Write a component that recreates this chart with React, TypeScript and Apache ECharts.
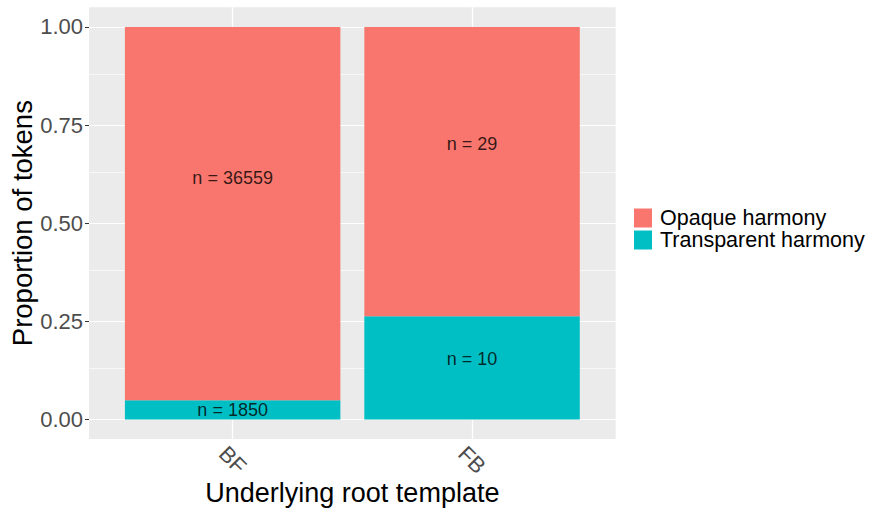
import React, { useEffect, useRef } from "react";
import * as echarts from "echarts";

const categories = ["BF", "FB"];
const categoryPos = [1, 2];
const opaqueProp = [0.951, 0.737];
const transparentProp = [0.049, 0.263];
const opaqueN = [36559, 29];
const transparentN = [1850, 10];
const opaqueLabelY = [0.616, 0.701];
const transparentLabelY = [0.025, 0.155];
const yTicks = [0, 0.25, 0.5, 0.75, 1];
const yMinor = [0.125, 0.375, 0.625, 0.875];

const FONT = "'Liberation Sans', Arial, sans-serif";
const RED = "#F8766D";
const TEAL = "#00BFC4";

export default function App() {
  const ref = useRef<HTMLDivElement>(null);
  useEffect(() => {
    if (!ref.current) return;
    const chart = echarts.init(ref.current, undefined, { renderer: "svg" });
    const panelLeft = 89;
    const panelRight = 615.7;
    const panelTop = 7.3;
    const panelBottom = 439;
    const unit = (panelRight - panelLeft) / 2.2;
    const barLeft = panelLeft + 0.1 * unit;
    const barRight = barLeft + 2 * unit;

    const gridLines: any[] = [
      ...yMinor.map((v) => ({ yAxis: v, lineStyle: { color: "#FFFFFF", width: 0.6, type: "solid" } })),
      ...yTicks.map((v) => ({ yAxis: v, lineStyle: { color: "#FFFFFF", width: 1.2, type: "solid" } })),
      ...categoryPos.map((v) => ({ xAxis: v, lineStyle: { color: "#FFFFFF", width: 1.2, type: "solid" } })),
    ];

    const labelData: any[] = [];
    categoryPos.forEach((x, i) => {
      labelData.push({ value: [x, opaqueLabelY[i]], name: "n = " + opaqueN[i] });
      labelData.push({ value: [x, transparentLabelY[i]], name: "n = " + transparentN[i] });
    });

    chart.setOption({
      animation: false,
      backgroundColor: "#FFFFFF",
      textStyle: { fontFamily: FONT },
      grid: [
        {
          left: panelLeft,
          right: 870 - panelRight,
          top: panelTop,
          bottom: 508 - panelBottom,
          show: true,
          backgroundColor: "#EBEBEB",
          borderWidth: 0,
          containLabel: false,
          outerBoundsMode: "none",
        },
        {
          left: barLeft,
          right: 870 - barRight,
          top: panelTop,
          bottom: 508 - panelBottom,
          show: false,
          containLabel: false,
          outerBoundsMode: "none",
        },
      ],
      legend: {
        orient: "vertical",
        left: 634,
        top: 207,
        padding: 0,
        itemWidth: 18,
        itemHeight: 19,
        itemGap: 0,
        icon: "rect",
        data: ["Opaque harmony", "Transparent harmony"],
        textStyle: { fontFamily: FONT, fontSize: 21.5, lineHeight: 20.5, color: "#000000", padding: [0, 0, 0, 3] },
        selectedMode: false,
      },
      xAxis: [
        {
          type: "value",
          gridIndex: 0,
          min: 0.4,
          max: 2.6,
          name: "Underlying root template",
          nameLocation: "middle",
          nameGap: 54,
          nameMoveOverlap: false,
          nameTextStyle: { fontFamily: FONT, fontSize: 27, color: "#000000", verticalAlign: "middle" },
          axisLine: { show: false },
          splitLine: { show: false },
          axisTick: { show: true, customValues: categoryPos, length: 4, lineStyle: { color: "#333333", width: 1 } },
          axisLabel: {
            customValues: categoryPos,
            formatter: (v: number) => categories[Math.round(v) - 1] ?? "",
            rotate: -45,
            align: "center",
            verticalAlign: "middle",
            margin: 21,
            fontFamily: FONT,
            fontSize: 22,
            color: "#4D4D4D",
          },
        },
        {
          type: "category",
          gridIndex: 1,
          data: categories,
          boundaryGap: true,
          show: false,
        },
      ],
      yAxis: [
        {
          type: "value",
          gridIndex: 0,
          min: -0.05,
          max: 1.05,
          name: "Proportion of tokens",
          nameLocation: "middle",
          nameGap: 67,
          nameMoveOverlap: false,
          nameTextStyle: { fontFamily: FONT, fontSize: 27.5, color: "#000000", verticalAlign: "middle" },
          axisLine: { show: false },
          splitLine: { show: false },
          axisTick: { show: true, customValues: yTicks, length: 4, lineStyle: { color: "#333333", width: 1 } },
          axisLabel: {
            customValues: yTicks,
            formatter: (v: number) => v.toFixed(2),
            margin: 6,
            fontFamily: FONT,
            fontSize: 22,
            color: "#4D4D4D",
          },
        },
        {
          type: "value",
          gridIndex: 1,
          min: -0.05,
          max: 1.05,
          show: false,
          splitLine: { show: false },
        },
      ],
      series: [
        {
          type: "line",
          xAxisIndex: 0,
          yAxisIndex: 0,
          data: [],
          z: 1,
          silent: true,
          markLine: {
            z: 1,
            silent: true,
            symbol: "none",
            animation: false,
            label: { show: false },
            data: gridLines,
          },
        },
        {
          name: "Transparent harmony",
          type: "bar",
          xAxisIndex: 1,
          yAxisIndex: 1,
          stack: "total",
          z: 2,
          barWidth: "90%",
          itemStyle: { color: TEAL },
          data: transparentProp,
        },
        {
          name: "Opaque harmony",
          type: "bar",
          xAxisIndex: 1,
          yAxisIndex: 1,
          stack: "total",
          z: 2,
          barWidth: "90%",
          itemStyle: { color: RED },
          data: opaqueProp,
        },
        {
          type: "scatter",
          xAxisIndex: 0,
          yAxisIndex: 0,
          z: 5,
          symbolSize: 0,
          silent: true,
          data: labelData,
          label: {
            show: true,
            position: "inside",
            formatter: (p: any) => p.name,
            fontFamily: FONT,
            fontSize: 18,
            color: "#000000",
          },
        },
      ],
    });
    return () => chart.dispose();
  }, []);
  return (
    <div
      ref={ref}
      style={{ position: "fixed", left: 0, top: 0, width: 870, height: 508 }}
    />
  );
}
